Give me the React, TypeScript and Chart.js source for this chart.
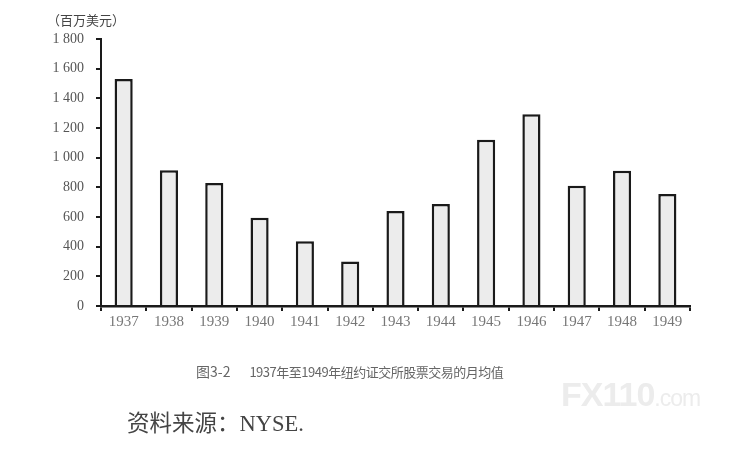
import { useEffect, useRef } from "react";
import { Chart, registerables } from "chart.js";

Chart.register(...registerables);

const years = ["1937", "1938", "1939", "1940", "1941", "1942", "1943", "1944", "1945", "1946", "1947", "1948", "1949"];
const monthlyVolume = [1530, 915, 829, 595, 436, 300, 640, 688, 1121, 1292, 811, 912, 755];
const yMax = 1800;
const yStep = 200;

const unitLabel = "（百万美元）";
const figureNo = "图3-2";
const caption = "1937年至1949年纽约证交所股票交易的月均值";
const sourceNote = "资料来源：NYSE.";

const serif = "'Liberation Serif', 'DejaVu Serif', serif";
const cjk = "'Liberation Serif', 'Noto Sans CJK SC', serif";
const cjkSans = "'Noto Sans CJK SC', 'Noto Sans', sans-serif";

function spaced(v: number) {
  return String(v).replace(/\B(?=(\d{3})+$)/g, " ");
}

export default function App() {
  const chartRef = useRef<HTMLCanvasElement | null>(null);

  useEffect(() => {
    if (!chartRef.current) return;

    const chart = new Chart(chartRef.current, {
      type: "bar",
      data: {
        labels: years,
        datasets: [
          {
            data: monthlyVolume,
            backgroundColor: "#ececec",
            borderColor: "#1a1a1a",
            borderWidth: 2.5,
            borderSkipped: "bottom",
            barPercentage: 0.4,
            categoryPercentage: 1,
          },
        ],
      },
      options: {
        animation: false,
        responsive: false,
        maintainAspectRatio: false,
        layout: { padding: { left: 0, right: 55, top: 39, bottom: 0 } },
        plugins: { legend: { display: false }, tooltip: { enabled: false } },
        scales: {
          x: {
            offset: true,
            border: { color: "#1a1a1a", width: 2.5 },
            grid: {
              offset: true,
              drawOnChartArea: false,
              tickLength: 5,
              color: "#1a1a1a",
              lineWidth: 2,
            },
            ticks: {
              color: "#777",
              font: { family: serif, size: 15 },
              padding: 2,
            },
            afterFit: (s: any) => {
              s.height = 148;
            },
          },
          y: {
            min: 0,
            max: yMax,
            border: { color: "#1a1a1a", width: 2 },
            grid: {
              drawOnChartArea: false,
              tickLength: 5,
              color: "#1a1a1a",
              lineWidth: 2,
            },
            ticks: {
              stepSize: yStep,
              color: "#555",
              font: { family: serif, size: 14 },
              padding: 12,
              callback: (v: any) => spaced(Number(v)),
            },
            afterFit: (s: any) => {
              s.width = 101;
            },
          },
        },
      },
    });

    return () => chart.destroy();
  }, []);

  return (
    <div
      style={{
        position: "fixed",
        left: 0,
        top: 0,
        width: 745,
        height: 454,
        background: "#fff",
        overflow: "hidden",
      }}
    >
      <canvas
        ref={chartRef}
        width={745}
        height={454}
        style={{ position: "absolute", left: 0, top: 0, width: 745, height: 454 }}
      />

      {/* unit label */}
      <div
        style={{
          position: "absolute",
          left: 47,
          top: 10,
          fontFamily: cjk,
          fontSize: 13,
          color: "#444",
          whiteSpace: "nowrap",
        }}
      >
        {unitLabel}
      </div>

      {/* watermark */}
      <div
        style={{
          position: "absolute",
          left: 561,
          top: 375,
          fontFamily: "'Liberation Sans', Arial, sans-serif",
          fontWeight: 700,
          color: "#ececec",
          whiteSpace: "nowrap",
          letterSpacing: -1,
        }}
      >
        <span style={{ fontSize: 34 }}>FX110</span>
        <span style={{ fontSize: 23, fontWeight: 400 }}>.com</span>
      </div>

      {/* caption */}
      <div
        style={{
          position: "absolute",
          left: 196,
          top: 361,
          fontFamily: cjkSans,
          fontSize: 13,
          color: "#666",
          whiteSpace: "nowrap",
        }}
      >
        <span style={{ fontSize: 14 }}>{figureNo}</span>
        <span style={{ marginLeft: 19, letterSpacing: -0.5 }}>{caption}</span>
      </div>

      {/* source */}
      <div
        style={{
          position: "absolute",
          left: 127,
          top: 405,
          fontFamily: cjk,
          fontSize: 22.5,
          color: "#444",
          whiteSpace: "nowrap",
        }}
      >
        {sourceNote}
      </div>
    </div>
  );
}
